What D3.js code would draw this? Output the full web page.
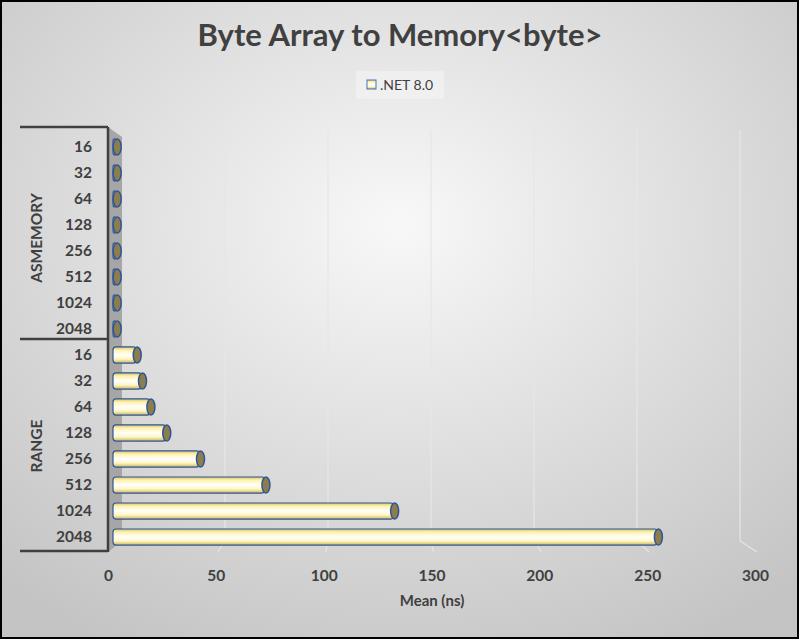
<!DOCTYPE html>
<html><head><meta charset="utf-8">
<script src="https://cdn.jsdelivr.net/npm/d3@7"></script>
<style>body{margin:0;} svg{display:block;font-family:Lato,"Open Sans",sans-serif;}</style>
</head><body>
<script>
const groups = ["ASMEMORY","RANGE"];
const sizes = ["16","32","64","128","256","512","1024","2048"];
const asMemory = [1.5,1.5,1.5,1.5,1.5,1.5,1.5,1.5];
const rangeVals = [11,13.5,17.5,25,41,72,133,258];
const xTicks = [0,50,100,150,200,250,300];
const seriesName = ".NET 8.0";
const title = "Byte Array to Memory<byte>";
const xTitle = "Mean (ns)";

const W=799,H=639;
const svg=d3.select("body").append("svg").attr("width",W).attr("height",H);
const defs=svg.append("defs");
const bg=defs.append("radialGradient").attr("id","bg").attr("cx","50%").attr("cy","35%").attr("r","75%");
bg.append("stop").attr("offset","0%").attr("stop-color","#f8f8f8");
bg.append("stop").attr("offset","100%").attr("stop-color","#c4c4c4");
const cyl=defs.append("linearGradient").attr("id","cyl").attr("x1",0).attr("y1",0).attr("x2",0).attr("y2",1);
[["0%","#d9c46a"],["20%","#fff3b0"],["50%","#ffffff"],["75%","#fff6c0"],["100%","#c9b65a"]].forEach(s=>cyl.append("stop").attr("offset",s[0]).attr("stop-color",s[1]));

svg.append("rect").attr("x",1).attr("y",1).attr("width",W-2).attr("height",H-2).attr("fill","url(#bg)").attr("stroke","#000").attr("stroke-width",2);

svg.append("text").attr("x",400).attr("y",46).attr("text-anchor","middle").attr("font-size",31).attr("font-weight","bold").attr("fill","#404040").text(title);

// legend
svg.append("rect").attr("x",356).attr("y",71).attr("width",88).attr("height",28).attr("fill","#f2f2f2").attr("opacity",0.7);
svg.append("rect").attr("x",367).attr("y",80).attr("width",9).attr("height",9).attr("fill","url(#cyl)").attr("stroke","#4472c4");
svg.append("text").attr("x",380).attr("y",90).attr("font-size",14).attr("fill","#404040").text(seriesName);

const cats=[];
groups.forEach((g,gi)=>sizes.forEach((s,si)=>cats.push({g,s,v:(gi?rangeVals:asMemory)[si],k:g+s})));

const y=d3.scaleBand().domain(cats.map(d=>d.k)).range([129,555]).padding(0.38);
const xFront=d3.scaleLinear().domain([0,300]).range([108,755]);
const xBack=d3.scaleLinear().domain([0,300]).range([122,740]);
const xBar=d3.scaleLinear().domain([0,300]).range([113,746]);

xTicks.slice(1).forEach(t=>{
  svg.append("path").attr("d",`M${xBack(t)},130 L${xBack(t)},541 L${xFront(t)+2},552`).attr("fill","none").attr("stroke","#e6e6e6").attr("stroke-width",1.2);
});
svg.append("path").attr("d","M108,127 L122,137 L122,541 L108,552 Z").attr("fill","#a6a6a6");
svg.append("line").attr("x1",108).attr("x2",108).attr("y1",127).attr("y2",552).attr("stroke","#404040").attr("stroke-width",2.5);
[127,339,551].forEach(yy=>svg.append("line").attr("x1",20).attr("x2",108).attr("y1",yy).attr("y2",yy).attr("stroke","#404040").attr("stroke-width",2.5));

svg.selectAll(".cl").data(cats).enter().append("text").attr("x",92).attr("y",d=>y(d.k)+y.bandwidth()/2+5).attr("text-anchor","end").attr("font-size",15.5).attr("font-weight","bold").attr("fill","#404040").text(d=>d.s);
groups.forEach((g,gi)=>{
  const yc=(y(g+sizes[0])+y(g+sizes[7])+y.bandwidth())/2;
  svg.append("text").attr("transform",`translate(42,${yc}) rotate(-90)`).attr("text-anchor","middle").attr("font-size",15.5).attr("font-weight","bold").attr("fill","#404040").text(g);
});

const bh=y.bandwidth(), rx=4;
const bars=svg.selectAll(".b").data(cats).enter().append("g");
bars.append("rect").attr("x",xBar(0)).attr("y",d=>y(d.k)).attr("width",d=>Math.max(0,xBar(d.v)-xBar(0))).attr("height",bh).attr("rx",3)
  .attr("fill","url(#cyl)").attr("stroke","#2f5597").attr("stroke-width",1.2);
bars.append("ellipse").attr("cx",d=>xBar(d.v)+1).attr("cy",d=>y(d.k)+bh/2).attr("rx",rx).attr("ry",bh/2)
  .attr("fill","#8c7d4e").attr("stroke","#2f5597").attr("stroke-width",1.5);

const ax=svg.append("g").attr("transform","translate(0,566)").call(d3.axisBottom(xFront).tickValues(xTicks).tickSize(0).tickPadding(4));
ax.select(".domain").remove();
ax.selectAll("text").attr("font-size",15.5).attr("font-weight","bold").attr("fill","#404040").attr("font-family","Lato,'Open Sans',sans-serif");
svg.append("text").attr("x",432).attr("y",606).attr("text-anchor","middle").attr("font-size",15).attr("font-weight","bold").attr("fill","#404040").text(xTitle);
</script>
</body></html>
